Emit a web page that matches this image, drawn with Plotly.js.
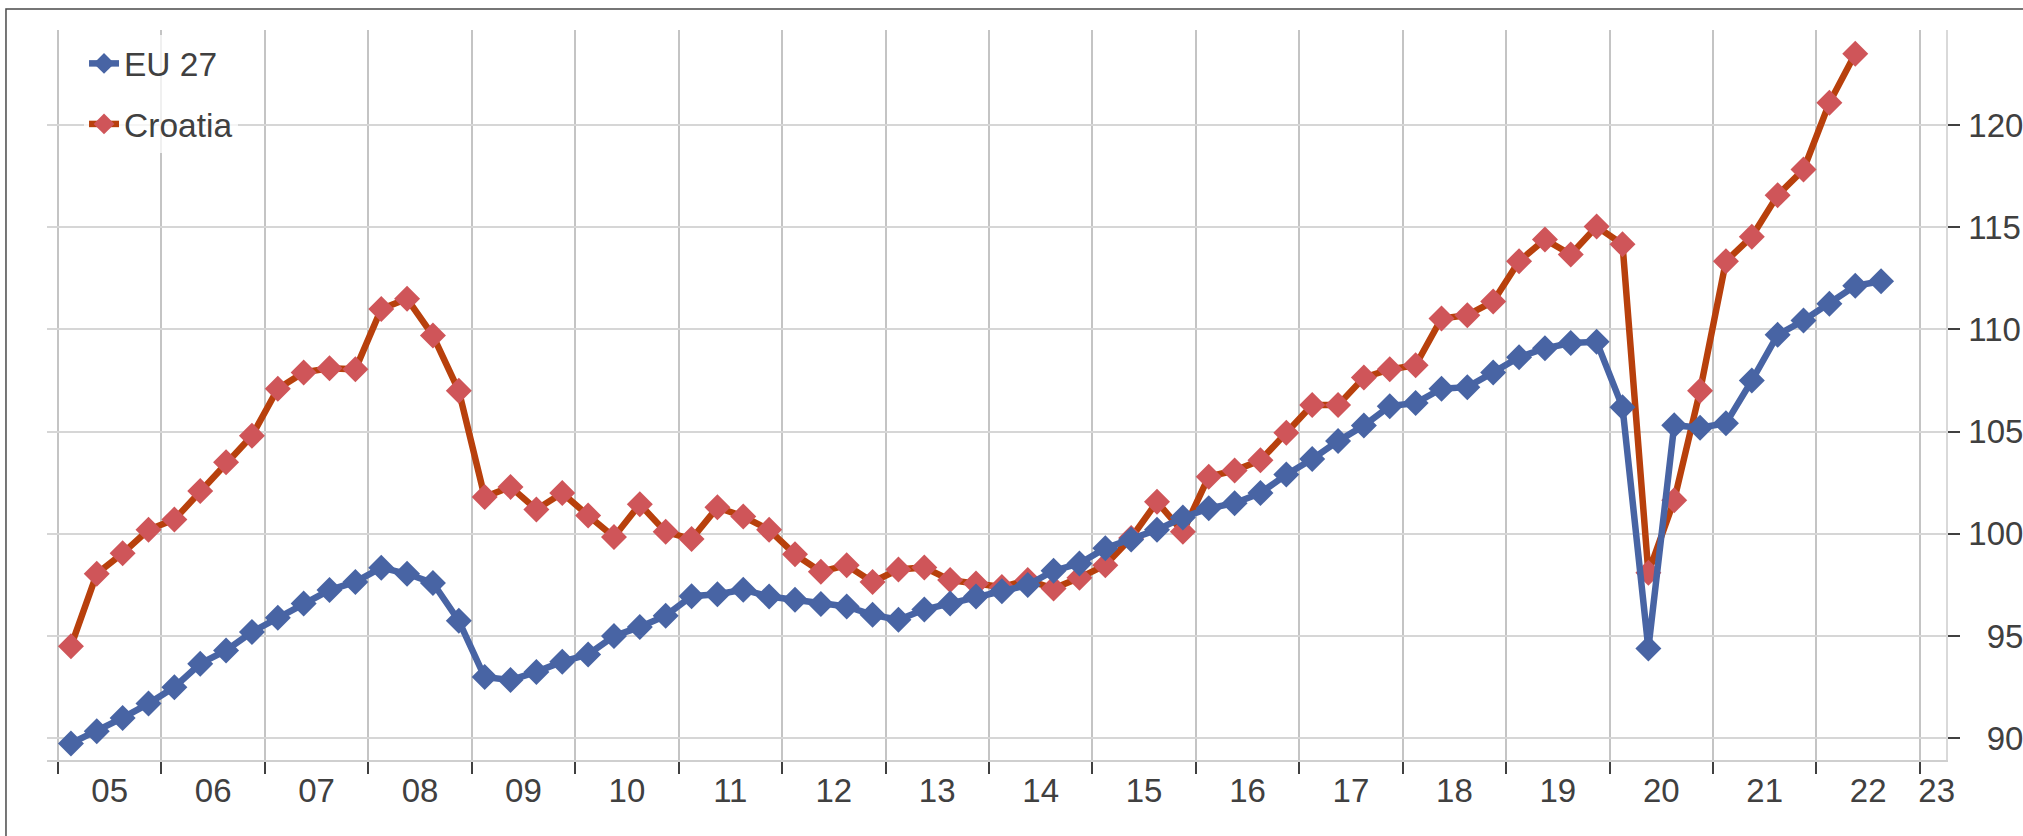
<!DOCTYPE html>
<html>
<head>
<meta charset="utf-8">
<script src="https://cdn.plot.ly/plotly-3.0.1.min.js"></script>
<style>
  html, body { margin: 0; padding: 0; background: #ffffff; }
  #chart { width: 2023px; height: 836px; }
</style>
</head>
<body>
<div id="chart"></div>
<script>
// ---- data (quarterly index, 2005Q1 onwards) ----
const yearLabels = ['05','06','07','08','09','10','11','12','13','14','15','16','17','18','19','20','21','22','23'];

const eu27 = [
  89.75, 90.35, 91.0, 91.7,
  92.5, 93.65, 94.3, 95.2,
  95.9, 96.6, 97.25, 97.65,
  98.35, 98.05, 97.6, 95.75,
  93.0, 92.85, 93.25, 93.75,
  94.1, 95.0, 95.45, 96.0,
  96.95, 97.05, 97.27, 96.94,
  96.78, 96.57, 96.45, 96.04,
  95.8, 96.3, 96.6, 96.94,
  97.2, 97.5, 98.2, 98.55,
  99.3, 99.73, 100.2, 100.8,
  101.25, 101.5, 102.0, 102.9,
  103.66, 104.54, 105.3, 106.25,
  106.4, 107.1, 107.18, 107.9,
  108.64, 109.08, 109.34, 109.4,
  106.2, 94.4, 105.32, 105.19,
  105.41, 107.5, 109.74, 110.44,
  111.26, 112.14, 112.36
];

const croatia = [
  94.5, 98.05, 99.05, 100.2,
  100.7, 102.1, 103.5, 104.8,
  107.1, 107.9, 108.1, 108.05,
  111.0, 111.5, 109.7, 107.0,
  101.8, 102.3, 101.2, 102.0,
  100.9, 99.85, 101.45, 100.1,
  99.75, 101.3, 100.85, 100.2,
  99.0, 98.15, 98.47, 97.65,
  98.26, 98.36, 97.74, 97.58,
  97.4, 97.74, 97.33, 97.85,
  98.47, 99.8, 101.57, 100.1,
  102.8, 103.1, 103.6, 104.95,
  106.3, 106.3, 107.65, 108.05,
  108.25, 110.54, 110.7, 111.37,
  113.34, 114.4, 113.67, 115.04,
  114.17, 98.1, 101.65, 107.0,
  113.34, 114.54, 116.57, 117.82,
  121.09, 123.49
];

const yTickValues = [90, 95, 100, 105, 110, 115, 120];

// ---- derived ----
const startYear = 2005;
const qIndex = arr => arr.map((_, i) => i);
const qName = arr => arr.map((_, i) => (startYear + Math.floor(i / 4)) + ' Q' + (i % 4 + 1));

const boundaryTicks = yearLabels.map((_, k) => 4 * k - 0.5);
const labelTicks = yearLabels.map((_, k) => (k < yearLabels.length - 1 ? 4 * k + 1.5 : 4 * k + 0.15));
const yTickText = yTickValues.map(v => (v < 100 ? '\u2007' : '') + v);

const FONT = '"Liberation Sans", Arial, Helvetica, sans-serif';
const TXT = '#404040';
const xRange = [-0.925, 72.51];

const traces = [
  {
    name: 'Croatia', x: qIndex(croatia), y: croatia, text: qName(croatia),
    type: 'scatter', mode: 'lines+markers', legendgroup: 'hr', legendrank: 2,
    line: { color: '#b8400c', width: 6.5 },
    marker: { symbol: 'diamond', size: 20, color: '#cf5559', line: { width: 0 } },
    hovertemplate: '%{text}: %{y}<extra>Croatia</extra>'
  },
  {
    name: 'EU 27', x: qIndex(eu27), y: eu27, text: qName(eu27),
    type: 'scatter', mode: 'lines+markers', legendgroup: 'eu', legendrank: 1,
    line: { color: '#4864a4', width: 6.5 },
    marker: { symbol: 'diamond', size: 20, color: '#4864a4', line: { width: 0 } },
    hovertemplate: '%{text}: %{y}<extra>EU 27</extra>'
  },
  // invisible trace that carries the year label axis
  {
    x: [0], y: [100], xaxis: 'x2', yaxis: 'y', type: 'scatter', mode: 'markers',
    marker: { opacity: 0 }, showlegend: false, hoverinfo: 'skip'
  }
];

const layout = {
  width: 2023, height: 836,
  margin: { l: 47, r: 77, t: 30, b: 76, pad: 0 },
  paper_bgcolor: '#ffffff', plot_bgcolor: '#ffffff',
  font: { family: FONT, size: 33, color: TXT },
  showlegend: true,
  legend: {
    x: 0.0195, y: 0.993, xanchor: 'left', yanchor: 'top',
    bgcolor: 'rgba(255,255,255,0.75)', borderwidth: 0,
    font: { family: FONT, size: 33.5, color: TXT },
    traceorder: 'grouped', tracegroupgap: 14
  },
  xaxis: {
    range: xRange, type: 'linear',
    tickmode: 'array', tickvals: boundaryTicks, showticklabels: false,
    ticks: 'outside', ticklen: 12, tickwidth: 2, tickcolor: '#404040',
    showgrid: true, gridcolor: '#c4c4c4', gridwidth: 2,
    showline: true, linecolor: '#cfcfcf', linewidth: 2,
    zeroline: false, fixedrange: true
  },
  xaxis2: {
    range: xRange, type: 'linear', overlaying: 'x', anchor: 'y', side: 'bottom',
    tickmode: 'array', tickvals: labelTicks, ticktext: yearLabels,
    ticks: '', showgrid: false, showline: false, zeroline: false,
    tickfont: { family: FONT, size: 33, color: TXT },
    ticklabelstandoff: 8, fixedrange: true
  },
  yaxis: {
    range: [88.94, 124.65], side: 'right',
    tickmode: 'array', tickvals: yTickValues, ticktext: yTickText,
    ticks: 'outside', ticklen: 12, tickwidth: 1.5, tickcolor: '#404040',
    showgrid: true, gridcolor: '#d6d6d6', gridwidth: 2,
    showline: true, linecolor: '#d9d9d9', linewidth: 1.5, mirror: false,
    zeroline: false, tickfont: { family: FONT, size: 33, color: TXT },
    ticklabelstandoff: 2, fixedrange: true
  },
  shapes: [
    {
      type: 'path', xref: 'paper', yref: 'paper',
      path: 'M -0.0216 -0.2 L -0.0216 1.0288 L 1.1 1.0288',
      line: { color: '#4a4a4a', width: 1.5 }
    }
  ]
};

Plotly.newPlot('chart', traces, layout, { displayModeBar: false, staticPlot: false });
</script>
</body>
</html>
